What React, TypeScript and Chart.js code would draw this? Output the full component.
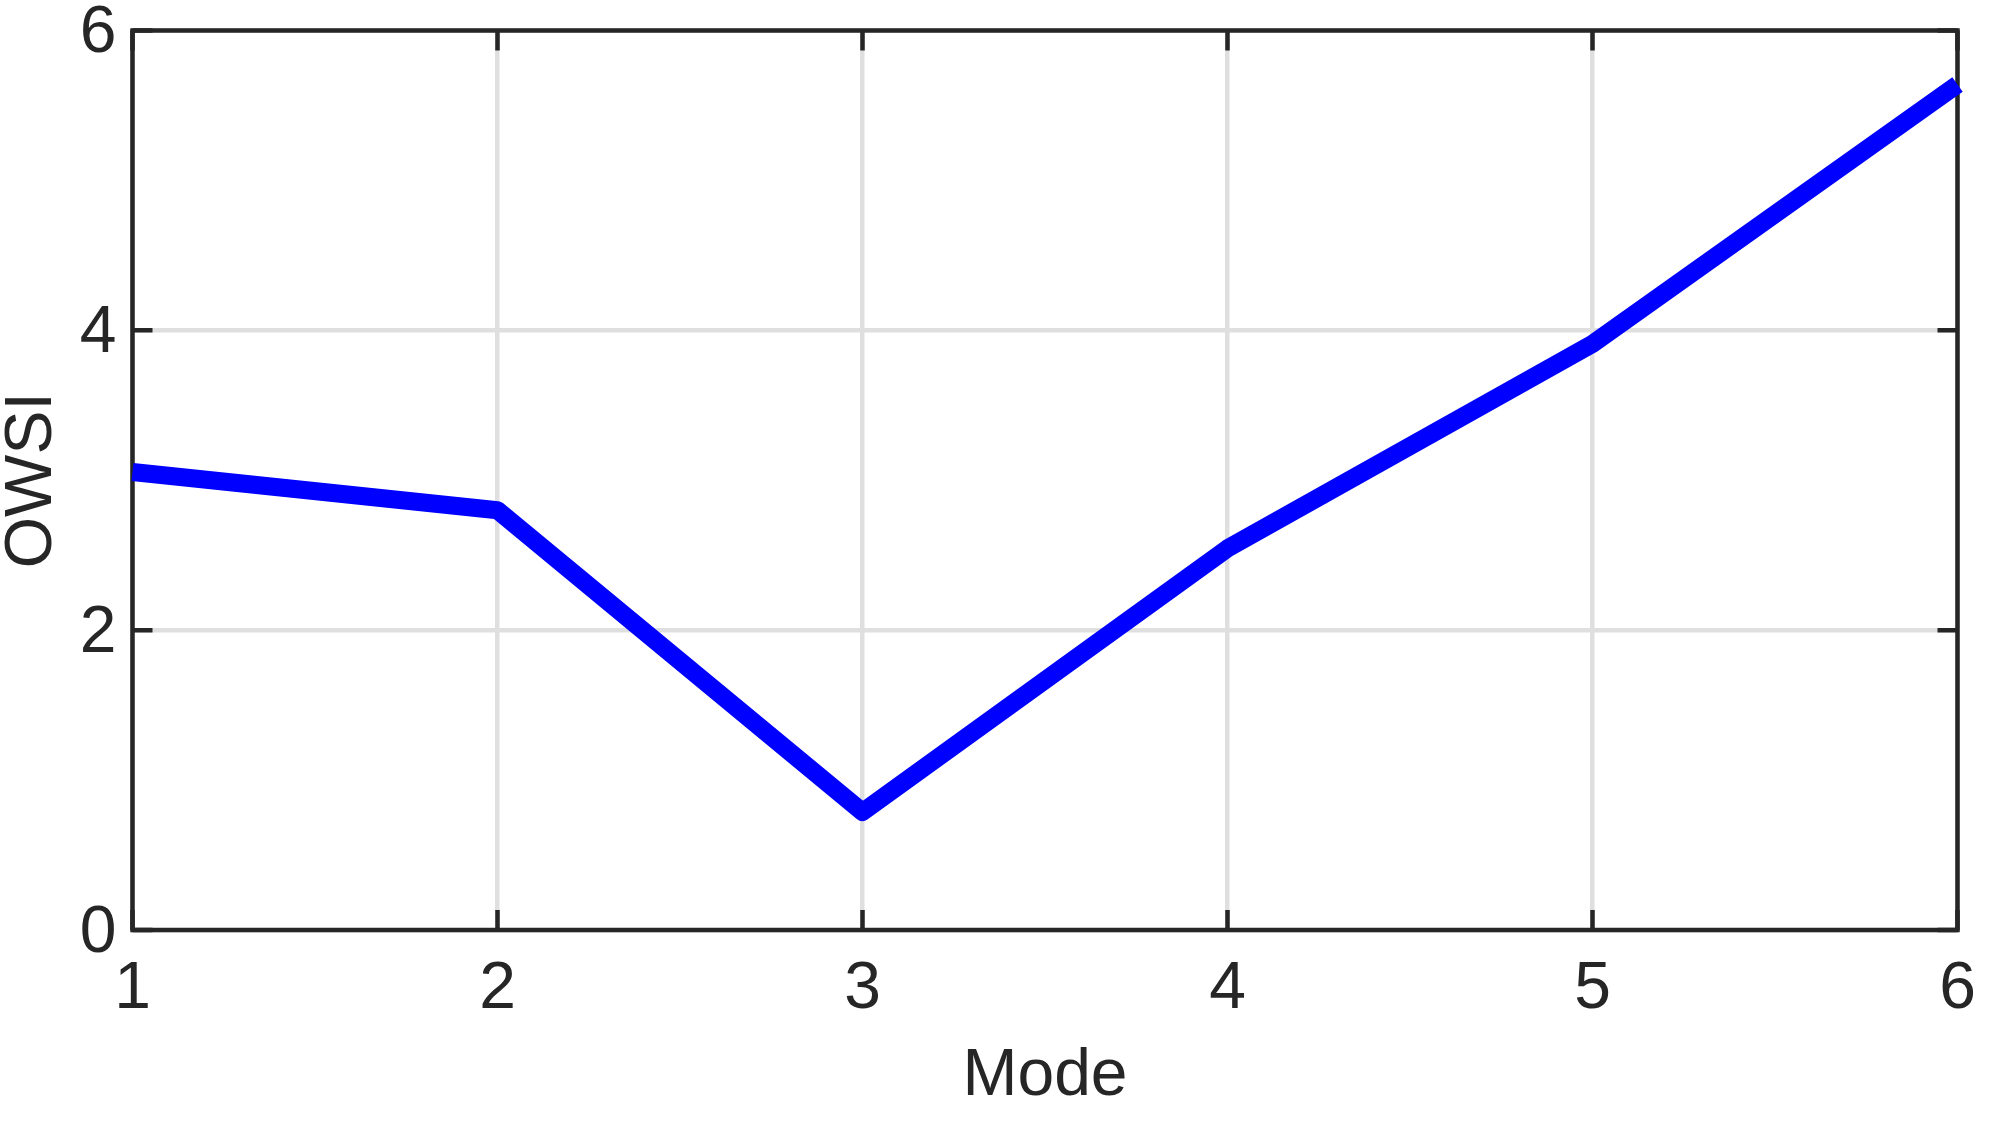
import React, { useEffect, useRef } from "react";
import { Chart, registerables } from "chart.js";

Chart.register(...registerables);

// ---- data ----
const modes = [1, 2, 3, 4, 5, 6];
const owsi = [3.055, 2.80, 0.787, 2.545, 3.91, 5.64];
const xTicks = [1, 2, 3, 4, 5, 6];
const yTicks = [0, 2, 4, 6];
const xTitle = "Mode";
const yTitle = "OWSI";

const W = 1999;
const H = 1121;
const AXIS = "#262626";
const GRID = "#dfdfdf";
const LINE = "#0000ff";
const FONT = "'Liberation Sans', Arial, Helvetica, sans-serif";
const FS = 66;
const TL = 20;
const AW = 4.5;

const framePlugin = {
  id: "matlabFrame",
  beforeDatasetsDraw(chart: any) {
    const { ctx, chartArea: a, scales } = chart;
    const x = scales.x;
    const y = scales.y;
    ctx.save();
    ctx.strokeStyle = AXIS;
    ctx.lineWidth = AW;
    ctx.lineCap = "butt";
    ctx.beginPath();
    for (const v of xTicks) {
      const px = x.getPixelForValue(v);
      ctx.moveTo(px, a.bottom);
      ctx.lineTo(px, a.bottom - TL);
      ctx.moveTo(px, a.top);
      ctx.lineTo(px, a.top + TL);
    }
    for (const v of yTicks) {
      const py = y.getPixelForValue(v);
      ctx.moveTo(a.left, py);
      ctx.lineTo(a.left + TL, py);
      ctx.moveTo(a.right, py);
      ctx.lineTo(a.right - TL, py);
    }
    ctx.stroke();
    ctx.lineJoin = "miter";
    ctx.strokeRect(a.left, a.top, a.right - a.left, a.bottom - a.top);
    ctx.restore();
  },
};

export default function App() {
  const ref = useRef<HTMLCanvasElement | null>(null);

  useEffect(() => {
    document.body.style.margin = "0";
    const canvas = ref.current;
    if (!canvas) return;
    const chart = new Chart(canvas, {
      type: "line",
      data: {
        datasets: [
          {
            data: modes.map((m, i) => ({ x: m, y: owsi[i] })),
            borderColor: LINE,
            backgroundColor: LINE,
            borderWidth: 18,
            pointRadius: 0,
            tension: 0,
            borderJoinStyle: "round",
            borderCapStyle: "butt",
            clip: false as any,
          },
        ],
      },
      options: {
        animation: false,
        responsive: false,
        devicePixelRatio: 1,
        layout: { padding: { top: 30.5, right: 41.5, left: 0, bottom: 0 } },
        plugins: {
          legend: { display: false },
          tooltip: { enabled: false },
        },
        scales: {
          x: {
            type: "linear",
            min: 1,
            max: 6,
            afterBuildTicks: (s: any) => {
              s.ticks = xTicks.map((v) => ({ value: v }));
            },
            afterFit: (s: any) => {
              s.height = H - 930;
              s.paddingLeft = 0;
              s.paddingRight = 0;
            },
            grid: { color: GRID, lineWidth: AW, drawTicks: false },
            border: { display: false },
            ticks: {
              color: AXIS,
              font: { family: FONT, size: FS, lineHeight: 1 },
              padding: 27,
              maxRotation: 0,
              autoSkip: false,
            },
            title: {
              display: true,
              text: xTitle,
              color: AXIS,
              font: { family: FONT, size: FS, lineHeight: 1 },
              padding: { top: 0, bottom: 11 },
            },
          },
          y: {
            type: "linear",
            min: 0,
            max: 6,
            afterBuildTicks: (s: any) => {
              s.ticks = yTicks.map((v) => ({ value: v }));
            },
            afterFit: (s: any) => {
              s.width = 132.5;
              s.paddingTop = 0;
              s.paddingBottom = 0;
            },
            grid: { color: GRID, lineWidth: AW, drawTicks: false },
            border: { display: false },
            ticks: {
              color: AXIS,
              font: { family: FONT, size: FS, lineHeight: 1 },
              padding: 16,
              labelOffset: 3.5,
              autoSkip: false,
            },
            title: {
              display: true,
              text: yTitle,
              color: AXIS,
              font: { family: FONT, size: FS, lineHeight: 1 },
              padding: { top: 0, bottom: 0 },
            },
          },
        },
      },
      plugins: [framePlugin],
    } as any);
    return () => chart.destroy();
  }, []);

  return (
    <canvas
      ref={ref}
      width={W}
      height={H}
      style={{ position: "absolute", left: 0, top: 0, width: W, height: H }}
    />
  );
}
